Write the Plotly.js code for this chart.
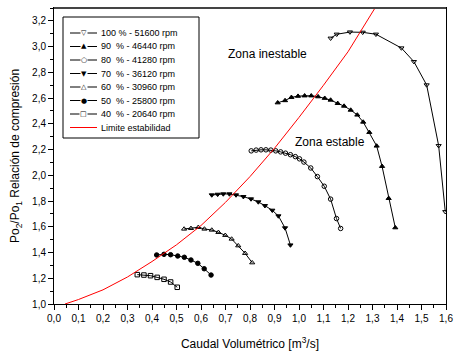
<!DOCTYPE html>
<html><head><meta charset="utf-8">
<script src="https://cdn.plot.ly/plotly-3.0.1.min.js"></script>
<style>html,body{margin:0;padding:0;background:#fff}#chart{width:456px;height:358px}</style>
</head><body><div id="chart"></div>
<script>
// Series names (legend text)
const seriesNames = [
  "100 % - 51600 rpm",
  "90\u00a0 % - 46440 rpm",
  "80\u00a0 % - 41280 rpm",
  "70\u00a0 % - 36120 rpm",
  "60\u00a0 % - 30960 rpm",
  "50\u00a0 % - 25800 rpm",
  "40\u00a0 % - 20640 rpm"
];
const limitName = "Limite estabilidad";

// 100 %
const x100 = [1.129, 1.154, 1.208, 1.260, 1.314, 1.418, 1.469, 1.521, 1.570, 1.597];
const y100 = [3.065, 3.096, 3.113, 3.111, 3.096, 2.989, 2.883, 2.702, 2.230, 1.717];
// 90 %
const x90 = [0.913, 0.943, 0.969, 0.996, 1.023, 1.050, 1.078, 1.105, 1.129, 1.158, 1.184, 1.211, 1.238, 1.262, 1.287, 1.317, 1.339, 1.366, 1.393];
const y90 = [2.564, 2.581, 2.606, 2.615, 2.618, 2.618, 2.611, 2.599, 2.585, 2.559, 2.538, 2.507, 2.469, 2.414, 2.334, 2.228, 2.070, 1.821, 1.593];
// 80 %
const x80 = [0.805, 0.825, 0.845, 0.865, 0.885, 0.905, 0.925, 0.945, 0.965, 0.985, 1.002, 1.020, 1.048, 1.075, 1.103, 1.129, 1.153, 1.170];
const y80 = [2.190, 2.196, 2.198, 2.198, 2.196, 2.190, 2.182, 2.172, 2.160, 2.145, 2.128, 2.103, 2.057, 1.990, 1.915, 1.815, 1.664, 1.587];
// 70 %
const x70 = [0.644, 0.668, 0.691, 0.716, 0.743, 0.773, 0.804, 0.834, 0.861, 0.891, 0.916, 0.943, 0.965];
const y70 = [1.847, 1.852, 1.855, 1.855, 1.847, 1.834, 1.816, 1.793, 1.764, 1.728, 1.684, 1.591, 1.458];
// 60 %
const x60 = [0.531, 0.559, 0.589, 0.614, 0.644, 0.671, 0.699, 0.725, 0.752, 0.780, 0.809];
const y60 = [1.583, 1.588, 1.596, 1.583, 1.575, 1.557, 1.534, 1.505, 1.453, 1.394, 1.321];
// 50 %
const x50 = [0.419, 0.449, 0.476, 0.505, 0.532, 0.559, 0.587, 0.613, 0.641];
const y50 = [1.381, 1.386, 1.383, 1.373, 1.363, 1.342, 1.316, 1.274, 1.225];
// 40 %
const x40 = [0.340, 0.367, 0.394, 0.421, 0.449, 0.476, 0.503];
const y40 = [1.228, 1.225, 1.220, 1.207, 1.192, 1.171, 1.130];
// Stability limit
const xLimit = [0.045, 0.10, 0.20, 0.30, 0.40, 0.50, 0.60, 0.70, 0.80, 0.90, 1.00, 1.10, 1.20, 1.30, 1.32];
const yLimit = [1.000, 1.035, 1.110, 1.210, 1.330, 1.460, 1.610, 1.790, 1.990, 2.210, 2.450, 2.700, 2.960, 3.260, 3.330];

const xSeries = [x100, x90, x80, x70, x60, x50, x40];
const ySeries = [y100, y90, y80, y70, y60, y50, y40];
const symbols = ['triangle-down-open', 'triangle-up', 'circle-open', 'triangle-down', 'triangle-up-open', 'circle', 'square-open'];
const legendGlyphs = ['\u25BD', '\u25B2', '\u25CB', '\u25BC', '\u25B3', '\u25CF', '\u25A1'];

const xTickVals = [0,0.1,0.2,0.3,0.4,0.5,0.6,0.7,0.8,0.9,1.0,1.1,1.2,1.3,1.4,1.5,1.6];
const yTickVals = [1.0,1.2,1.4,1.6,1.8,2.0,2.2,2.4,2.6,2.8,3.0,3.2];

const FONT = 'Liberation Sans, Arial, sans-serif';

const traces = [];
for (let i = 0; i < xSeries.length; i++) {
  traces.push({
    type: 'scatter', mode: 'lines+markers', name: seriesNames[i],
    x: xSeries[i], y: ySeries[i],
    line: {color: '#000', width: 1},
    marker: {symbol: symbols[i], size: 4.5, color: '#000', line: {color: '#000', width: 1}},
    showlegend: false, cliponaxis: true
  });
}
traces.push({
  type: 'scatter', mode: 'lines', name: limitName,
  x: xLimit, y: yLimit,
  line: {color: '#ff0000', width: 1},
  showlegend: false
});

// Manual legend (paper coordinates); plot area is 392 x 296 px
const W = 392, H = 296;
const px = v => v / W, py = v => v / H;
const shapes = [{
  type: 'rect', xref: 'paper', yref: 'paper',
  x0: px(9), x1: px(145), y0: 1 - py(9), y1: 1 - py(130),
  line: {color: '#000', width: 1}, fillcolor: '#fff', layer: 'above'
}, {
  // darker top/right frame like the reference
  type: 'line', xref: 'paper', yref: 'paper', x0: 0, x1: 1, y0: 1, y1: 1,
  line: {color: '#444', width: 2}, layer: 'above'
}];
const annotations = [];
const allNames = seriesNames.concat([limitName]);
for (let i = 0; i < allNames.length; i++) {
  const yy = 1 - py(25 + 13.5 * i);
  shapes.push({
    type: 'line', xref: 'paper', yref: 'paper',
    x0: px(16), x1: px(43), y0: yy, y1: yy,
    line: {color: i < 7 ? '#000' : '#ff0000', width: 1}, layer: 'above'
  });
  if (i < 7) {
    annotations.push({
      xref: 'paper', yref: 'paper', x: px(29.5), y: yy, text: legendGlyphs[i],
      showarrow: false, xanchor: 'center', yanchor: 'middle',
      font: {family: 'DejaVu Sans', size: 7, color: '#000'}, bgcolor: '#fff', borderpad: 0
    });
  }
  annotations.push({
    xref: 'paper', yref: 'paper', x: px(45), y: yy, text: allNames[i],
    showarrow: false, xanchor: 'left', yanchor: 'middle',
    font: {family: FONT, size: 9, color: '#000'}
  });
}
annotations.push({
  xref: 'x', yref: 'y', x: 0.87, y: 2.94, text: 'Zona inestable', showarrow: false,
  xanchor: 'center', yanchor: 'middle', font: {family: FONT, size: 12, color: '#000'}
});
annotations.push({
  xref: 'x', yref: 'y', x: 1.127, y: 2.26, text: 'Zona estable', showarrow: false,
  xanchor: 'center', yanchor: 'middle', font: {family: FONT, size: 12, color: '#000'}
});

const layout = {
  width: 456, height: 358,
  margin: {l: 54, r: 10, t: 8, b: 54, pad: 0},
  paper_bgcolor: '#fff', plot_bgcolor: '#fff',
  separators: ', ',
  showlegend: false,
  font: {family: FONT, size: 10, color: '#000'},
  xaxis: {
    range: [0, 1.6], tickvals: xTickVals, tickformat: '.1f',
    ticks: 'outside', ticklen: 5, tickwidth: 1, tickcolor: '#000',
    minor: {dtick: 0.05, tick0: 0, ticks: 'outside', ticklen: 3, tickwidth: 1, tickcolor: '#000', showgrid: false},
    showgrid: false, zeroline: false,
    showline: true, linecolor: '#000', linewidth: 1, mirror: true,
    tickfont: {family: FONT, size: 10, color: '#000'},
    title: {text: 'Caudal Volumétrico [m<sup>3</sup>/s]', font: {family: FONT, size: 12, color: '#000'}, standoff: 16}
  },
  yaxis: {
    range: [1.0, 3.3], tickvals: yTickVals, tickformat: '.1f',
    ticks: 'outside', ticklen: 5, tickwidth: 1, tickcolor: '#000',
    minor: {dtick: 0.1, tick0: 1.0, ticks: 'outside', ticklen: 3, tickwidth: 1, tickcolor: '#000', showgrid: false},
    showgrid: false, zeroline: false,
    showline: true, linecolor: '#000', linewidth: 1, mirror: true,
    tickfont: {family: FONT, size: 10, color: '#000'},
    title: {text: 'Po<sub>2</sub>/Po<sub>1</sub> Relación de compresión', font: {family: FONT, size: 12, color: '#000'}, standoff: 9}
  },
  shapes: shapes,
  annotations: annotations
};

Plotly.newPlot('chart', traces, layout, {staticPlot: true, displayModeBar: false});
</script>
</body></html>
